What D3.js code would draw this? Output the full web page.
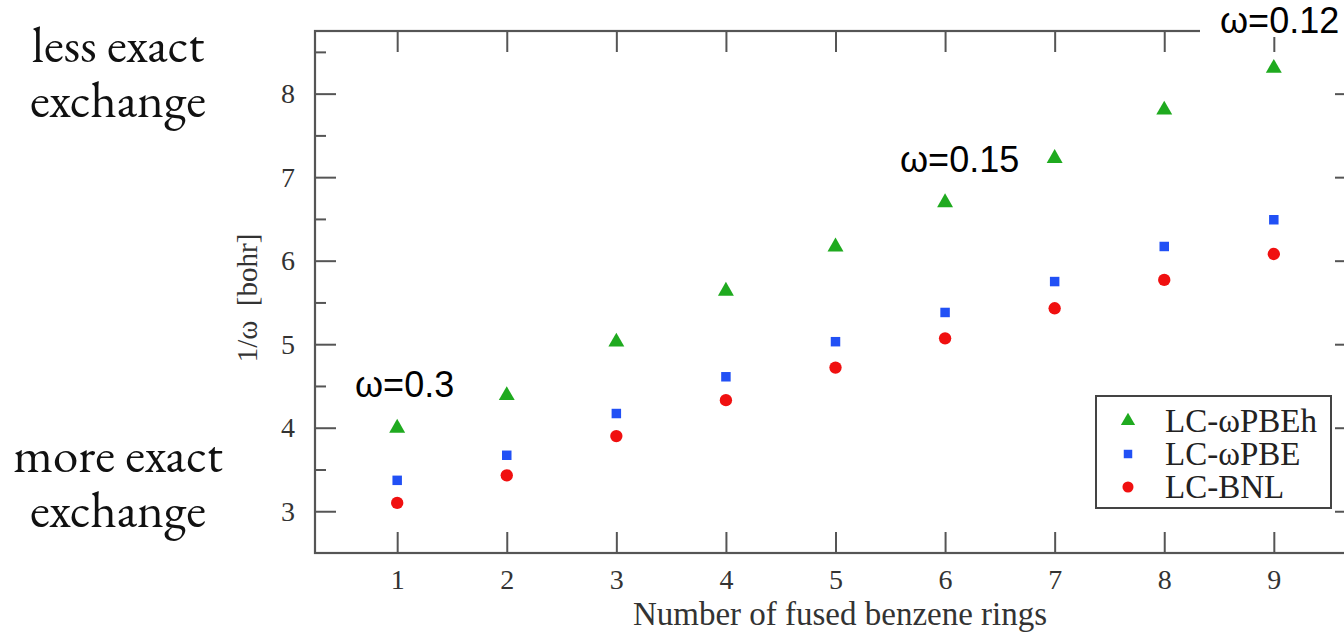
<html>
<head>
<meta charset="utf-8" />
<title>Range-separation parameter vs number of fused rings</title>
<script src="https://cdn.jsdelivr.net/npm/d3@7"></script>
<style>
  body { margin: 0; background: #fff; }
  .serif { font-family: "Liberation Serif", "Times New Roman", serif; }
  .sans { font-family: "Liberation Sans", Arial, sans-serif; }
</style>
</head>
<body>
<script>

// rings on the x axis
var rings = [1, 2, 3, 4, 5, 6, 7, 8, 9];

// 1/omega in bohr
var pbeh = [4.02, 4.41, 5.05, 5.66, 6.19, 6.72, 7.25, 7.83, 8.33];
var pbe  = [3.37, 3.67, 4.17, 4.61, 5.03, 5.38, 5.75, 6.17, 6.49];
var bnl  = [3.10, 3.43, 3.90, 4.33, 4.72, 5.07, 5.43, 5.77, 6.08];

var seriesNames = ["LC-ωPBEh", "LC-ωPBE", "LC-BNL"];
var seriesColors = ["#1faa1f", "#2150f5", "#f01010"];
var seriesShapes = [d3.symbolTriangle, d3.symbolSquare, d3.symbolCircle];
var seriesSizes = [110, 90, 120];

var yMajor = [3, 4, 5, 6, 7, 8];
var yMinor = [3.5, 4.5, 5.5, 6.5, 7.5, 8.5];

var notes = [
  {label: "ω=0.3", x: 355, y: 397, bg: false},
  {label: "ω=0.15", x: 900, y: 172, bg: false},
  {label: "ω=0.12", x: 1220, y: 33, bg: true}
];

var W = 1344, H = 644;
var margin = {top: 31, left: 315};
var plotRight = 1356, plotBottom = 553;

var svg = d3.select("body").append("svg")
  .attr("width", W).attr("height", H);

var xScale = d3.scaleLinear().domain([0.25, 9.75]).range([margin.left, plotRight]);
var yScale = d3.scaleLinear().domain([2.5, 8.75]).range([plotBottom, margin.top]);

var axisColor = "#555";

// frame
svg.append("rect")
  .attr("x", margin.left).attr("y", margin.top)
  .attr("width", plotRight - margin.left).attr("height", plotBottom - margin.top)
  .attr("fill", "none").attr("stroke", axisColor).attr("stroke-width", 2.2);

function styleAxis(g) {
  g.select(".domain").remove();
  g.selectAll(".tick line").attr("stroke", axisColor).attr("stroke-width", 2);
  g.selectAll(".tick text").attr("class", "serif").attr("fill", "#333").attr("font-size", 28);
}

// bottom and top x ticks, pointing inward
svg.append("g").attr("transform", "translate(0," + plotBottom + ")")
  .call(d3.axisBottom(xScale).tickValues(rings).tickSize(-21).tickPadding(16).tickFormat(d3.format("d")))
  .call(styleAxis);
svg.append("g").attr("transform", "translate(0," + margin.top + ")")
  .call(d3.axisTop(xScale).tickValues(rings).tickSize(-21).tickFormat(""))
  .call(styleAxis);

// left and right y ticks
svg.append("g").attr("transform", "translate(" + margin.left + ",0)")
  .call(d3.axisLeft(yScale).tickValues(yMajor).tickSize(-21).tickPadding(20).tickFormat(d3.format("d")))
  .call(styleAxis);
svg.append("g").attr("transform", "translate(" + margin.left + ",0)")
  .call(d3.axisLeft(yScale).tickValues(yMinor).tickSize(-11).tickFormat(""))
  .call(styleAxis);
svg.append("g").attr("transform", "translate(" + plotRight + ",0)")
  .call(d3.axisRight(yScale).tickValues(yMajor).tickSize(-21).tickFormat(""))
  .call(styleAxis);
svg.append("g").attr("transform", "translate(" + plotRight + ",0)")
  .call(d3.axisRight(yScale).tickValues(yMinor).tickSize(-11).tickFormat(""))
  .call(styleAxis);

// axis titles
svg.append("text").attr("class", "serif")
  .attr("x", (633 + 1047) / 2).attr("y", 625)
  .attr("text-anchor", "middle").attr("font-size", 33).attr("fill", "#333")
  .text("Number of fused benzene rings");

svg.append("text").attr("class", "serif")
  .attr("transform", "translate(257,298) rotate(-90)")
  .attr("text-anchor", "middle").attr("font-size", 29).attr("fill", "#333")
  .style("white-space", "pre")
  .text("1/ω  [bohr]");

// points
var allSeries = [pbeh, pbe, bnl];
allSeries.forEach(function(vals, s) {
  svg.append("g").selectAll("path")
    .data(vals)
    .join("path")
    .attr("transform", function(d, i) {
      var dy = s === 0 ? 2 : 0;
      return "translate(" + xScale(rings[i]) + "," + (yScale(d) + dy) + ")";
    })
    .attr("d", d3.symbol().type(seriesShapes[s]).size(seriesSizes[s]))
    .attr("fill", seriesColors[s]);
});

// legend
var legend = svg.append("g");
legend.append("rect")
  .attr("x", 1096).attr("y", 396).attr("width", 235).attr("height", 112)
  .attr("fill", "#fff").attr("stroke", "#444").attr("stroke-width", 2);
seriesNames.forEach(function(name, s) {
  var cy = 421 + s * 33;
  legend.append("path")
    .attr("transform", "translate(1128," + cy + ")")
    .attr("d", d3.symbol().type(seriesShapes[s]).size(seriesSizes[s] * 0.8))
    .attr("fill", seriesColors[s]);
  legend.append("text").attr("class", "serif")
    .attr("x", 1165).attr("y", cy + 11)
    .attr("font-size", 33).attr("fill", "#222")
    .text(name);
});

// omega annotations (the top one sits on a white patch over the frame)
notes.forEach(function(n) {
  var t = svg.append("text").attr("class", "sans")
    .attr("x", n.x).attr("y", n.y)
    .attr("font-size", 36).attr("fill", "#000")
    .text(n.label);
  if (n.bg) {
    var bb = t.node().getBBox();
    svg.insert("rect", function() { return t.node(); })
      .attr("x", bb.x - 20).attr("y", bb.y).attr("width", bb.width + 60).attr("height", bb.height - 4)
      .attr("fill", "#fff");
  }
});

// side notes
var sideNotes = [
  {lines: ["less exact", "exchange"], y: 62},
  {lines: ["more exact", "exchange"], y: 472}
];
sideNotes.forEach(function(n) {
  svg.append("text")
    .attr("x", 118).attr("y", n.y)
    .attr("text-anchor", "middle")
    .attr("font-family", "'EB Garamond', 'Liberation Serif', serif")
    .attr("font-size", 51).attr("fill", "#111")
    .selectAll("tspan")
    .data(n.lines)
    .join("tspan")
    .attr("x", 118)
    .attr("dy", function(d, i) { return i === 0 ? 0 : 55; })
    .text(function(d) { return d; });
});

</script>
</body>
</html>
